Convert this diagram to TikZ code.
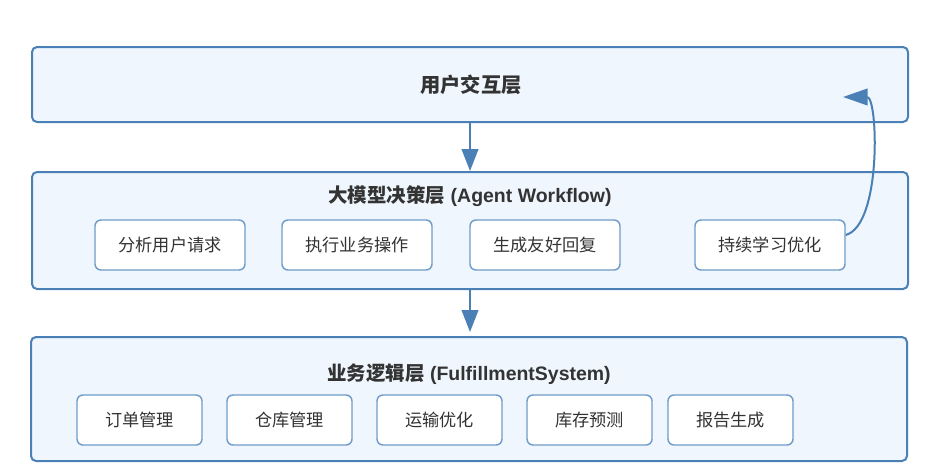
\documentclass[tikz,border=0pt]{standalone}
\usepackage{fontspec}
\setmainfont{Liberation Sans}
\newfontfamily\cjk{Noto Sans CJK SC}
\usetikzlibrary{arrows.meta}
\definecolor{edgeblue}{HTML}{4A80B5}
\definecolor{layerfill}{HTML}{EFF6FE}
\definecolor{subedge}{HTML}{6F9CC8}
\definecolor{txt}{HTML}{333333}
\tikzset{
  layer/.style={draw=edgeblue, line width=1.5pt, fill=layerfill, rounded corners=3.75pt,
    minimum width=657pt, inner sep=0pt},
  titletext/.style={text=txt, font=\fontsize{14.6}{16}\selectfont\bfseries, inner sep=0pt},
  subbox/.style={draw=subedge, line width=1.1pt, fill=white, rounded corners=4.5pt,
    minimum height=37.5pt, inner sep=0pt, text=txt, font=\fontsize{12.9}{14}\selectfont\cjk},
  wide/.style={subbox, minimum width=112.5pt},
  narrow/.style={subbox, minimum width=93.75pt},
  flow/.style={draw=edgeblue, line width=1.5pt, -{Triangle[length=16.5pt,width=12.5pt]}},
}
\begin{document}
\begin{tikzpicture}[x=0.75pt,y=-0.75pt]
\useasboundingbox[fill=white] (0,0) rectangle (932,471);
% layers
\node[layer, minimum height=56.25pt] (top) at (470,84.5) {};
\node[titletext, font=\fontsize{15.2}{17}\selectfont\bfseries] (toptitle) at (471,85) {\cjk 用户交互层};
\node[layer, minimum height=87.75pt] (mid) at (470,230.5) {};
\node[titletext] (midtitle) at (470,196) {{\cjk 大模型决策层} (Agent Workflow)};
\node[layer, minimum height=93pt] (bot) at (469,399) {};
\node[titletext] (bottitle) at (469,374) {{\cjk 业务逻辑层} (FulfillmentSystem)};
% middle sub boxes
\node[wide] (analyze) at (170,245) {分析用户请求};
\node[wide] (execute) at (357,245) {执行业务操作};
\node[wide] (reply) at (545,245) {生成友好回复};
\node[wide] (learn) at (770,245) {持续学习优化};
% bottom sub boxes
\node[narrow] (order) at (139.5,420) {订单管理};
\node[narrow] (store) at (289.5,420) {仓库管理};
\node[narrow] (ship) at (439.5,420) {运输优化};
\node[narrow] (stock) at (589.5,420) {库存预测};
\node[narrow] (report) at (730.5,420) {报告生成};
% connectors
\draw[flow] (top.south) -- (mid.north);
\draw[flow, shorten >=3pt] (mid.south) -- (mid.south |- bot.north);
\coordinate (fbk) at (843,97);
\draw[flow, -{Triangle[length=18.5pt,width=12.5pt]}] ([yshift=7.5pt]learn.east) .. controls (882,225) and (878,97) .. (fbk);
\end{tikzpicture}
\end{document}
